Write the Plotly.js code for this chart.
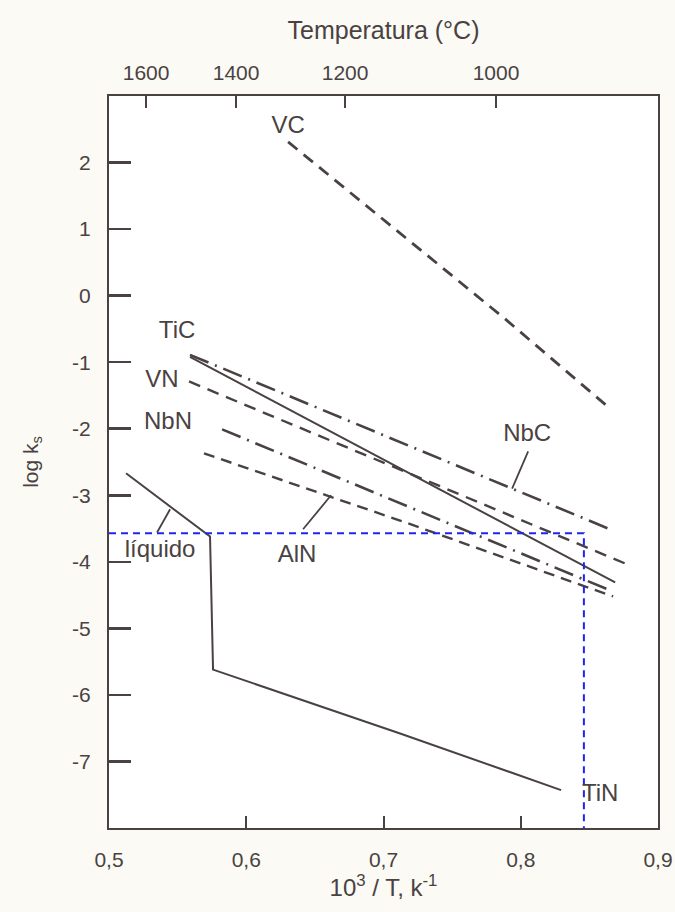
<!DOCTYPE html>
<html>
<head>
<meta charset="utf-8">
<script src="https://cdn.plot.ly/plotly-3.0.1.min.js"></script>
<style>
  html, body { margin: 0; padding: 0; background: #fbfaf5; }
  #chart { width: 675px; height: 912px; }
</style>
</head>
<body>
<div id="chart"></div>
<script>
// ---- data (x = 10^3/T, y = log ks) ----
const vcX  = [0.6305, 0.7886, 0.8652];
const vcY  = [2.31, -0.35, -1.70];
const nbcX = [0.559, 0.8673];
const nbcY = [-0.89, -3.53];
const ticX = [0.559, 0.8688];
const ticY = [-0.92, -4.31];
const vnX  = [0.5583, 0.879];
const vnY  = [-1.29, -4.05];
const nbnX = [0.5824, 0.8652];
const nbnY = [-2.01, -4.43];
const alnX = [0.5692, 0.7121, 0.8673];
const alnY = [-2.37, -3.38, -4.52];
// liquid boundary + TiN (one polyline)
const tinX = [0.5124, 0.5736, 0.5758, 0.7121, 0.8294];
const tinY = [-2.67, -3.62, -5.62, -6.58, -7.43];
// leader lines for labels
const liqPtrX = [0.5445, 0.535];
const liqPtrY = [-3.21, -3.56];
const alnPtrX = [0.6618, 0.6414];
const alnPtrY = [-3.00, -3.51];
const nbcPtrX = [0.8054, 0.7937];
const nbcPtrY = [-2.34, -2.90];
// blue dashed guide lines
const guideX = [0.5, 0.846, 0.846];
const guideY = [-3.57, -3.57, -8];

// labels
const labelText = ['VC', 'TiC', 'VN', 'NbN', 'NbC', 'AlN', 'líquido', 'TiN'];
const labelX    = [0.6305, 0.5496, 0.5386, 0.543, 0.8047, 0.637, 0.5372, 0.8579];
const labelY    = [2.54, -0.54, -1.29, -1.91, -2.10, -3.92, -3.84, -7.51];

// ticks
const xTickVals = [0.5, 0.6, 0.7, 0.8, 0.9];
const xTickText = ['0,5', '0,6', '0,7', '0,8', '0,9'];
const yTickVals = [2, 1, 0, -1, -2, -3, -4, -5, -6, -7];
const yTickText = ['2', '1', '0', '-1', '-2', '-3', '-4', '-5', '-6', '-7'];
const tempTickVals = [0.527, 0.5926, 0.672, 0.782];
const tempTickText = ['1600', '1400', '1200', '1000'];

const ink = '#4a4242';
const font = 'Liberation Sans, Arial, sans-serif';

function line(x, y, dash, width, color) {
  return {
    x: x, y: y, type: 'scatter', mode: 'lines',
    line: { color: color || ink, width: width, dash: dash },
    hoverinfo: 'skip', showlegend: false, xaxis: 'x', yaxis: 'y'
  };
}

const traces = [
  line(vcX, vcY, '12px,8px', 2.8),
  line(nbcX, nbcY, '20px,7px,2px,7px', 2.6),
  line(ticX, ticY, 'solid', 2),
  line(vnX, vnY, '12px,8px', 2.4),
  line(nbnX, nbnY, '20px,7px,2px,7px', 2.6),
  line(alnX, alnY, '11px,7px', 2.4),
  line(tinX, tinY, 'solid', 2),
  line(liqPtrX, liqPtrY, 'solid', 1.8),
  line(alnPtrX, alnPtrY, 'solid', 1.8),
  line(nbcPtrX, nbcPtrY, 'solid', 1.8),
  line(guideX, guideY, '7px,5px', 2, '#1f24f0'),
  {
    x: labelX, y: labelY, text: labelText, type: 'scatter', mode: 'text',
    textfont: { family: font, size: 24, color: ink },
    textposition: 'middle center', hoverinfo: 'skip', showlegend: false,
    xaxis: 'x', yaxis: 'y', cliponaxis: false
  },
  // invisible trace to activate the top temperature axis
  { x: [0.5, 0.9], y: [-8, -8], type: 'scatter', mode: 'markers',
    marker: { opacity: 0 }, xaxis: 'x2', yaxis: 'y', hoverinfo: 'skip', showlegend: false }
];

const layout = {
  width: 675, height: 912,
  margin: { l: 109, r: 17, t: 96, b: 84 },
  paper_bgcolor: '#fbfaf5',
  plot_bgcolor: '#ffffff',
  font: { family: font, color: ink, size: 20 },
  showlegend: false,
  xaxis: {
    range: [0.5, 0.9], tickvals: xTickVals, ticktext: xTickText,
    ticks: 'inside', ticklen: 12, tickwidth: 2, tickcolor: ink,
    showline: true, linecolor: ink, linewidth: 2, mirror: false,
    showgrid: false, zeroline: false,
    ticklabelstandoff: 12,
    tickfont: { size: 21, color: ink },
    title: { text: '10<sup>3</sup> / T, k<sup>-1</sup>', font: { size: 24, color: ink }, standoff: 6 }
  },
  xaxis2: {
    overlaying: 'x', side: 'top', range: [0.5, 0.9],
    tickvals: tempTickVals, ticktext: tempTickText,
    ticks: 'inside', ticklen: 12, tickwidth: 2, tickcolor: ink,
    showline: true, linecolor: ink, linewidth: 2,
    showgrid: false, zeroline: false,
    ticklabelstandoff: 6,
    tickfont: { size: 21, color: ink },
    title: { text: 'Temperatura (°C)', font: { size: 25, color: ink }, standoff: 14 }
  },
  yaxis: {
    range: [-8, 3], tickvals: yTickVals, ticktext: yTickText,
    ticks: 'inside', ticklen: 22, tickwidth: 2.5, tickcolor: ink,
    showline: true, linecolor: ink, linewidth: 2, mirror: true,
    showgrid: false, zeroline: false,
    ticklabelstandoff: 12,
    tickfont: { size: 21, color: ink },
    title: { text: 'log k<sub>s</sub>', font: { size: 21, color: ink }, standoff: 28 }
  }
};

Plotly.newPlot('chart', traces, layout, { staticPlot: true, displayModeBar: false });
</script>
</body>
</html>
